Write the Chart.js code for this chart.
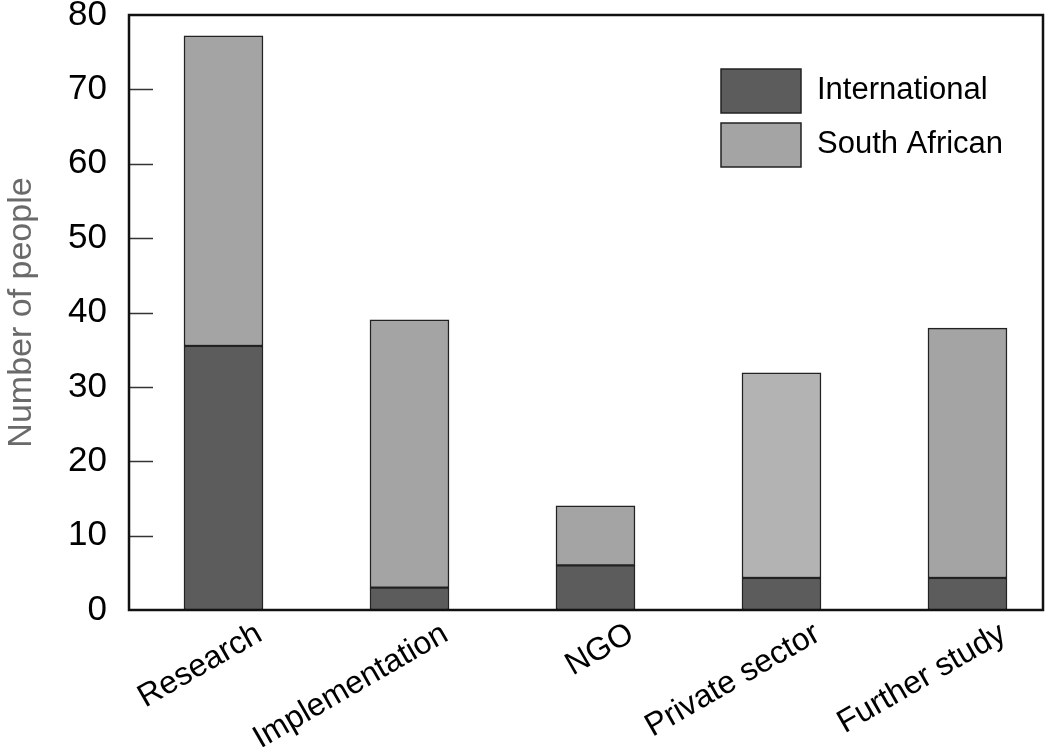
<!DOCTYPE html>
<html>
<head>
<meta charset="utf-8">
<script src="https://cdn.jsdelivr.net/npm/chart.js@4/dist/chart.umd.min.js"></script>
<style>
  html, body { margin: 0; padding: 0; background: #fff; }
</style>
</head>
<body>
<canvas id="chart" width="1050" height="747"></canvas>
<script>
// ===== Data =====
const categories = ['Research', 'Implementation', 'NGO', 'Private sector', 'Further study'];
const international = [35.5, 3, 6, 4.3, 4.3];
const southAfrican = [41.7, 36, 8, 27.6, 33.6];
const yTicks = [0, 10, 20, 30, 40, 50, 60, 70, 80];
const seriesNames = ['International', 'South African'];

// ===== Styles =====
const FONT = "'Liberation Sans', Arial, sans-serif";
const DARK = '#5c5c5c';
const LIGHT = ['#a4a4a4', '#a4a4a4', '#a4a4a4', '#b3b3b3', '#a4a4a4'];

// frame, inward ticks and legend box
const framePlugin = {
  id: 'frame',
  afterDatasetsDraw(chart) {
    const { ctx, chartArea: a, scales: { y } } = chart;
    ctx.save();
    ctx.strokeStyle = '#333';
    ctx.lineWidth = 1.5;
    yTicks.forEach(v => {
      if (v === yTicks[0] || v === yTicks[yTicks.length - 1]) return;
      const py = Math.round(y.getPixelForValue(v)) + 0.5;
      ctx.beginPath();
      ctx.moveTo(a.left, py);
      ctx.lineTo(a.left + 24, py);
      ctx.stroke();
    });
    ctx.strokeStyle = '#111';
    ctx.lineWidth = 2.5;
    ctx.strokeRect(a.left, a.top, a.right - a.left, a.bottom - a.top);

    // legend
    const lx = a.right - 322;
    let ly = a.top + 54;
    ctx.font = '31px ' + FONT;
    ctx.textBaseline = 'middle';
    ctx.textAlign = 'left';
    chart.data.datasets.forEach((ds, i) => {
      ctx.fillStyle = i === 0 ? DARK : LIGHT[0];
      ctx.fillRect(lx, ly, 80, 44);
      ctx.strokeStyle = '#222';
      ctx.lineWidth = 1.5;
      ctx.strokeRect(lx, ly, 80, 44);
      ctx.fillStyle = '#000';
      ctx.fillText(ds.label, lx + 96, ly + 21);
      ly += 54;
    });
    ctx.restore();
  }
};

const ctx = document.getElementById('chart').getContext('2d');
new Chart(ctx, {
  type: 'bar',
  data: {
    datasets: [
      {
        label: seriesNames[0],
        data: categories.map((c, i) => ({ x: i, y: international[i] })),
        backgroundColor: DARK,
        borderColor: '#222',
        borderWidth: 1.5,
        borderSkipped: false,
        barThickness: 79
      },
      {
        label: seriesNames[1],
        data: categories.map((c, i) => ({ x: i, y: southAfrican[i] })),
        backgroundColor: LIGHT,
        borderColor: '#222',
        borderWidth: 1.5,
        borderSkipped: false,
        barThickness: 79
      }
    ]
  },
  options: {
    responsive: false,
    animation: false,
    layout: { padding: { top: 15, right: 7, left: 0, bottom: 0 } },
    plugins: { legend: { display: false }, tooltip: { enabled: false } },
    scales: {
      x: {
        type: 'linear',
        stacked: true,
        offset: false,
        min: -0.508,
        max: 4.406,
        grid: { display: false },
        border: { display: false },
        afterBuildTicks: s => { s.ticks = categories.map((c, i) => ({ value: i })); },
        afterFit: s => { s.height = 137; s.paddingLeft = 0; s.paddingRight = 0; },
        ticks: {
          callback: v => categories[v],
          minRotation: 30,
          maxRotation: 30,
          labelOffset: 36,
          padding: -3,
          color: '#000',
          font: { family: FONT, size: 32 }
        }
      },
      y: {
        stacked: true,
        min: 0,
        max: 80,
        grid: { display: false, drawTicks: false },
        border: { display: false },
        afterBuildTicks: s => { s.ticks = yTicks.map(v => ({ value: v })); },
        afterFit: s => { s.width = 129; s.paddingTop = 0; s.paddingBottom = 0; },
        ticks: {
          padding: 22,
          color: '#000',
          font: { family: FONT, size: 35 }
        },
        title: {
          display: true,
          text: 'Number of people',
          color: '#6a6a6a',
          padding: { top: 1, bottom: 0 },
          font: { family: FONT, size: 34 }
        }
      }
    }
  },
  plugins: [framePlugin]
});
</script>
</body>
</html>
